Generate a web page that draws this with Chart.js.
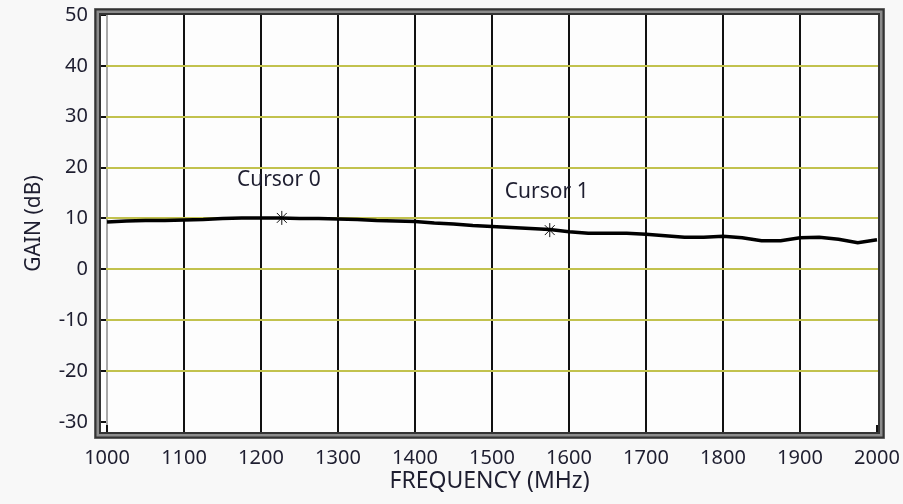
<!DOCTYPE html>
<html>
<head>
<meta charset="utf-8">
<script src="https://cdn.jsdelivr.net/npm/chart.js@4.4.1/dist/chart.umd.min.js"></script>
<style>
  html, body { margin: 0; padding: 0; background: #f8f8f8; }
  #gainChart { display: block; }
</style>
</head>
<body>
<canvas id="gainChart" width="903" height="504"></canvas>
<script>
const frequencies = [
  1000, 1025, 1050, 1075, 1100, 1125, 1150, 1175, 1200, 1225,
  1250, 1275, 1300, 1325, 1350, 1375, 1400, 1425, 1450, 1475,
  1500, 1525, 1550, 1575, 1600, 1625, 1650, 1675, 1700, 1725,
  1750, 1775, 1800, 1825, 1850, 1875, 1900, 1925, 1950, 1975, 2000,
];
const gainDb = [
  9.3, 9.5, 9.6, 9.6, 9.7, 9.8, 10.0, 10.1, 10.1, 10.1,
  10.0, 10.0, 9.9, 9.8, 9.6, 9.5, 9.4, 9.1, 8.9, 8.6,
  8.4, 8.2, 8.0, 7.8, 7.4, 7.1, 7.1, 7.1, 6.9, 6.6,
  6.3, 6.3, 6.5, 6.2, 5.6, 5.6, 6.2, 6.3, 5.9, 5.2, 5.8,
];
const cursorNames = ['Cursor 0', 'Cursor 1'];
const cursorFreqs = [1227, 1575];
const cursorGains = [10.1, 7.7];

const xTicks = [1000, 1100, 1200, 1300, 1400, 1500, 1600, 1700, 1800, 1900, 2000];
const yTicks = [-30, -20, -10, 0, 10, 20, 30, 40, 50];

const textColor = '#1e1e30';
const fontFamily = '"Noto Sans", "Open Sans", sans-serif';

const plotBackground = {
  id: 'plotBackground',
  beforeDraw(chart) {
    const { ctx, chartArea: a } = chart;
    ctx.save();
    ctx.fillStyle = '#fdfdfd';
    ctx.fillRect(a.left, a.top, a.right - a.left, a.bottom - a.top);
    ctx.restore();
  },
};

const cursorLabels = {
  id: 'cursorLabels',
  afterDatasetsDraw(chart) {
    const { ctx, scales } = chart;
    ctx.save();
    ctx.fillStyle = textColor;
    ctx.font = `21px ${fontFamily}`;
    ctx.textAlign = 'center';
    ctx.textBaseline = 'middle';
    cursorNames.forEach((name, i) => {
      const px = scales.x.getPixelForValue(cursorFreqs[i]);
      const py = scales.y.getPixelForValue(cursorGains[i]);
      ctx.fillText(name, px - 3, py - 38);
    });
    ctx.restore();
  },
};

const frame = {
  id: 'frame',
  afterDraw(chart) {
    const { ctx, chartArea: a, scales } = chart;
    ctx.save();
    // inner tick marks
    ctx.strokeStyle = '#111';
    ctx.lineWidth = 2;
    yTicks.forEach((v) => {
      const y = Math.round(scales.y.getPixelForValue(v));
      ctx.beginPath();
      ctx.moveTo(a.left, y);
      ctx.lineTo(a.left + 5, y);
      ctx.stroke();
    });
    xTicks.forEach((v) => {
      const x = Math.round(scales.x.getPixelForValue(v));
      ctx.beginPath();
      ctx.moveTo(x, a.bottom);
      ctx.lineTo(x, a.bottom - 7);
      ctx.stroke();
    });
    // double frame
    const rect = (off, color, w) => {
      ctx.strokeStyle = color;
      ctx.lineWidth = w;
      ctx.strokeRect(a.left - off, a.top - off, a.right - a.left + off * 2, a.bottom - a.top + off * 2);
    };
    rect(3.5, '#8c8c8c', 7);
    rect(5.5, '#333', 2);
    rect(1, '#333', 2);
    ctx.restore();
  },
};

new Chart(document.getElementById('gainChart'), {
  type: 'scatter',
  data: {
    datasets: [
      {
        label: 'Gain',
        data: frequencies.map((f, i) => ({ x: f, y: gainDb[i] })),
        showLine: true,
        borderColor: '#000',
        borderWidth: 3.5,
        pointRadius: 0,
        tension: 0,
      },
      {
        label: 'Cursors',
        data: cursorFreqs.map((f, i) => ({ x: f, y: cursorGains[i] })),
        showLine: false,
        pointStyle: 'star',
        pointRadius: 7,
        borderColor: '#111',
        borderWidth: 1,
      },
    ],
  },
  options: {
    responsive: false,
    animation: false,
    devicePixelRatio: 1,
    layout: { padding: { top: 15, right: 25, left: 0, bottom: 0 } },
    plugins: { legend: { display: false }, tooltip: { enabled: false } },
    scales: {
      x: {
        type: 'linear',
        min: 992.2,
        max: 2001.3,
        afterBuildTicks: (scale) => { scale.ticks = xTicks.map((value) => ({ value })); },
        afterFit: (scale) => {
          scale.height = 72;
          scale.paddingLeft = 0;
          scale.paddingRight = 0;
        },
        border: { display: false },
        grid: {
          drawTicks: false,
          lineWidth: 2,
          color: (c) => (c.tick.value === 1000 ? '#a8a8a8' : c.tick.value === 2000 ? 'rgba(0,0,0,0)' : '#111'),
        },
        ticks: {
          padding: 14,
          color: textColor,
          font: { family: fontFamily, size: 20 },
          maxRotation: 0,
          callback: (v) => String(v),
        },
        title: {
          display: true,
          text: 'FREQUENCY (MHz)',
          color: textColor,
          font: { family: fontFamily, size: 23 },
          padding: { top: 0, bottom: 9 },
        },
      },
      y: {
        type: 'linear',
        min: -32,
        max: 50,
        afterBuildTicks: (scale) => { scale.ticks = yTicks.map((value) => ({ value })); },
        afterFit: (scale) => {
          scale.width = 101;
          scale.paddingTop = 0;
          scale.paddingBottom = 0;
        },
        border: { display: false },
        grid: {
          drawTicks: false,
          lineWidth: 2,
          color: (c) => (c.tick.value === 50 || c.tick.value === -30 ? 'rgba(0,0,0,0)' : '#c2c24e'),
        },
        ticks: {
          padding: 13,
          color: textColor,
          font: { family: fontFamily, size: 20 },
          callback: (v) => String(v),
        },
        title: {
          display: true,
          text: 'GAIN (dB)',
          color: textColor,
          font: { family: fontFamily, size: 21 },
          padding: { top: 21, bottom: 0 },
        },
      },
    },
  },
  plugins: [plotBackground, cursorLabels, frame],
});
</script>
</body>
</html>
